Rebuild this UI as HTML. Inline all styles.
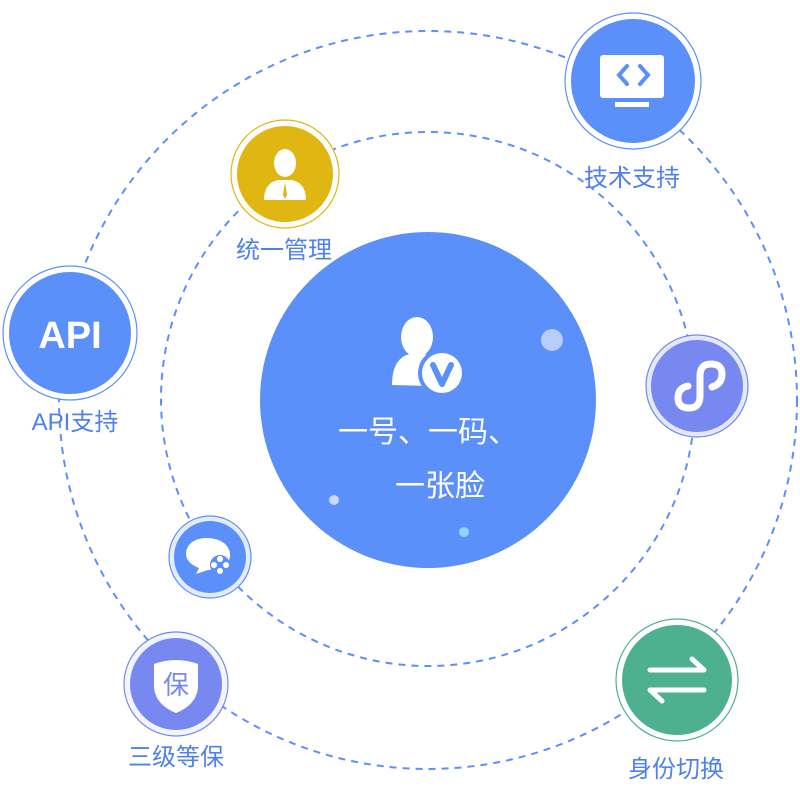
<!DOCTYPE html>
<html><head><meta charset="utf-8"><style>
html,body{margin:0;padding:0;background:#fff;width:800px;height:800px;overflow:hidden}
text{font-family:"Liberation Sans","Noto Sans CJK SC",sans-serif}
</style></head><body>
<svg width="800" height="800" viewBox="0 0 800 800" xmlns="http://www.w3.org/2000/svg">
<circle cx="428" cy="400" r="369" fill="none" stroke="#5b8ff9" stroke-width="2" stroke-dasharray="7,6"/>
<circle cx="428" cy="399" r="267" fill="none" stroke="#5b8ff9" stroke-width="2" stroke-dasharray="7,6"/>
<circle cx="428" cy="400" r="168" fill="#5b8ff9"/>
<circle cx="552" cy="340" r="11" fill="#b8cdfc"/>
<circle cx="334" cy="500" r="5" fill="#c9d8fd"/>
<circle cx="464" cy="532" r="5" fill="#8fd3f5"/>
<g fill="#fff">
<ellipse cx="417" cy="337" rx="16" ry="20"/>
<path d="M392 385 Q392 358 410 354 L424 354 Q440 358 440 370 L430 386 Z"/>
<circle cx="442" cy="373" r="24" fill="#5b8ff9"/>
<circle cx="442" cy="373" r="20"/>
</g>
<path d="M433 365 L442 384 L451 365" fill="none" stroke="#5b8ff9" stroke-width="6" stroke-linecap="round" stroke-linejoin="round"/>
<text x="428" y="442" font-size="30" fill="#fff" text-anchor="middle">一号、一码、</text>
<text x="440" y="496" font-size="30" fill="#fff" text-anchor="middle">一张脸</text>
<circle cx="633" cy="81" r="68" fill="#fff" stroke="#5b8ff9" stroke-width="1.2"/>
<circle cx="633" cy="81" r="62" fill="#5b8ff9"/>
<rect x="600" y="55" width="64" height="43" rx="3" fill="#fff"/>
<rect x="615" y="102" width="34" height="5" fill="#fff"/>
<path d="M627 66 L619 75 L627 84 M640 66 L648 75 L640 84" fill="none" stroke="#5b8ff9" stroke-width="4" stroke-linecap="round"/>
<text x="632" y="186" font-size="24" fill="#4f80ee" text-anchor="middle">技术支持</text>
<circle cx="285" cy="174" r="54" fill="#fff" stroke="#e0b612" stroke-width="1.2"/>
<circle cx="285" cy="174" r="48" fill="#e0b612"/>
<ellipse cx="285" cy="163" rx="11" ry="14" fill="#fff"/>
<path d="M264 200 Q264 183 278 180 L292 180 Q306 183 306 200 Z" fill="#fff"/>
<path d="M285 182 L283 195 L285 199 L287 195 Z" fill="#e0b612"/>
<text x="284" y="258" font-size="24" fill="#4f80ee" text-anchor="middle">统一管理</text>
<circle cx="70" cy="333" r="67" fill="#fff" stroke="#5b8ff9" stroke-width="1.2"/>
<circle cx="70" cy="333" r="61" fill="#5b8ff9"/>
<text x="70" y="348" font-size="38" font-weight="bold" fill="#fff" text-anchor="middle">API</text>
<text x="75" y="430" font-size="24" fill="#4f80ee" text-anchor="middle">API支持</text>
<circle cx="697" cy="386" r="51" fill="#e3e8fb" stroke="#7788ee" stroke-width="1.2"/>
<circle cx="697" cy="386" r="46" fill="#7788f0"/>
<path d="M712 387 Q722 384 722 374 Q722 364 711 364 Q700 364 700 376 L700 396 Q700 408 689 408 Q678 408 678 398 Q678 388 688 386" fill="none" stroke="#fff" stroke-width="7" stroke-linecap="round"/>
<circle cx="210" cy="557" r="41" fill="#e3ebfd" stroke="#5b8ff9" stroke-width="1.2"/>
<circle cx="210" cy="557" r="36" fill="#5b8ff9"/>
<path d="M206 538 C222 538 230 546 230 555 C230 564 222 570 208 570 L196 574 L199 568 C191 565 186 560 186 554 C186 545 194 538 206 538 Z" fill="#fff"/>
<circle cx="220" cy="565" r="10" fill="#5b8ff9"/>
<g fill="#fff"><circle cx="220" cy="559" r="3"/><circle cx="226" cy="565" r="3"/><circle cx="220" cy="571" r="3"/><circle cx="214" cy="565" r="3"/></g>
<circle cx="176" cy="684" r="52" fill="#f3f5fe" stroke="#7788ee" stroke-width="1.2"/>
<circle cx="176" cy="684" r="46" fill="#7788f0"/>
<path d="M154 664 Q176 656 198 664 L198 688 Q196 705 176 713 Q156 705 154 688 Z" fill="#fff"/>
<text x="176" y="694" font-size="26" fill="#7788f0" text-anchor="middle">保</text>
<text x="176" y="765" font-size="24" fill="#4f80ee" text-anchor="middle">三级等保</text>
<circle cx="677" cy="680" r="61" fill="#fff" stroke="#4caf8f" stroke-width="1.2"/>
<circle cx="677" cy="680" r="55" fill="#4db08e"/>
<path d="M650 670 L704 670 L692 659 M704 690 L650 690 L662 701" fill="none" stroke="#fff" stroke-width="5" stroke-linecap="round" stroke-linejoin="round"/>
<text x="676" y="777" font-size="24" fill="#4f80ee" text-anchor="middle">身份切换</text>
</svg>
</body></html>
